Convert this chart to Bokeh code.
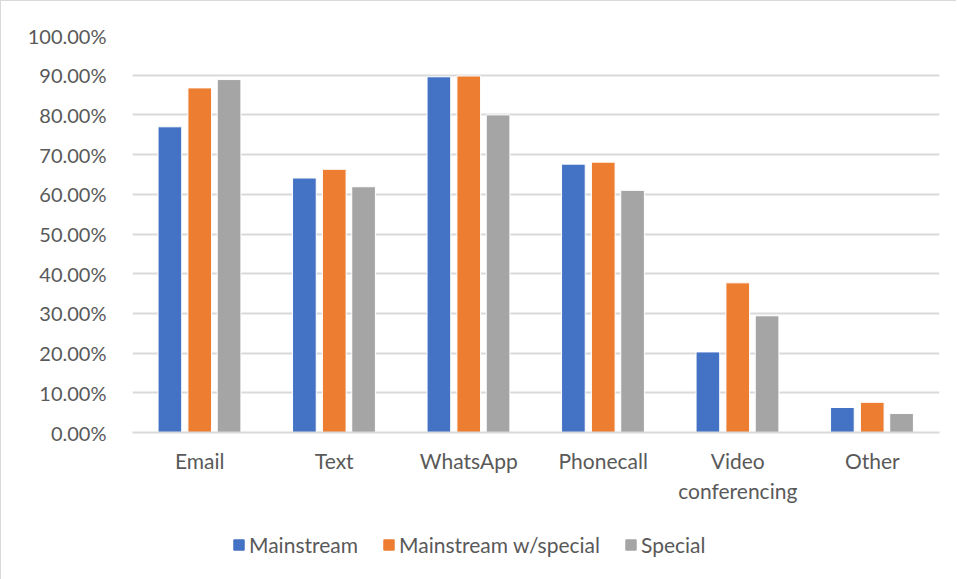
from bokeh.plotting import figure
from bokeh.layouts import column
from bokeh.models import ColumnDataSource, FixedTicker, Range1d, Legend, LegendItem, NumeralTickFormatter
from bokeh.transform import dodge
from bokeh.embed import file_html
from bokeh.resources import INLINE

categories = ["Email", "Text", "WhatsApp", "Phonecall", "Video\nconferencing", "Other"]
mainstream = [0.770, 0.641, 0.896, 0.676, 0.203, 0.063]
mainstream_special = [0.868, 0.663, 0.898, 0.681, 0.377, 0.076]
special = [0.889, 0.619, 0.800, 0.610, 0.294, 0.048]
series_names = ["Mainstream", "Mainstream w/special", "Special"]
colors = ["#4472C4", "#ED7D31", "#A5A5A5"]
y_ticks = [0, 0.1, 0.2, 0.3, 0.4, 0.5, 0.6, 0.7, 0.8, 0.9, 1.0]

FONT = "Lato"
TXT = "#595959"
BORDER = "1px solid #d9d9d9"

src = ColumnDataSource(dict(
    x=list(range(len(categories))),
    m=mainstream, ms=mainstream_special, s=special,
))

p = figure(width=956, height=509, output_backend="svg", toolbar_location=None,
           x_range=Range1d(-0.5, len(categories) - 0.5), y_range=Range1d(0, 1.0),
           min_border_left=131, min_border_right=18, min_border_top=34, min_border_bottom=78)
p.styles = {"border-top": BORDER, "border-left": BORDER}
p.outline_line_color = None
p.background_fill_color = "white"
p.border_fill_color = "white"

offsets = [-0.222, 0.0, 0.218]
fields = ["m", "ms", "s"]
for f, off, c in zip(fields, offsets, colors):
    p.vbar(x=dodge("x", off, range=p.x_range), top=f, width=0.176, source=src,
           fill_color=c, line_color="white", line_width=1)

p.xaxis.ticker = FixedTicker(ticks=list(range(len(categories))))
p.xaxis.major_label_overrides = {i: c for i, c in enumerate(categories)}
p.xaxis.axis_line_color = "#d9d9d9"
p.xaxis.axis_line_width = 2
p.xaxis.major_tick_line_color = None
p.xaxis.minor_tick_line_color = None
p.xaxis.major_label_text_font = FONT
p.xaxis.major_label_text_font_size = "21px"
p.xaxis.major_label_text_color = TXT
p.xaxis.major_label_standoff = 9

p.yaxis.ticker = FixedTicker(ticks=y_ticks)
p.yaxis.formatter = NumeralTickFormatter(format="0.00%")
p.yaxis.axis_line_color = None
p.yaxis.major_tick_line_color = None
p.yaxis.minor_tick_line_color = None
p.yaxis.major_label_text_font = FONT
p.yaxis.major_label_text_font_size = "20px"
p.yaxis.major_label_text_color = TXT
p.yaxis.major_label_standoff = 20

p.xgrid.grid_line_color = None
p.ygrid.ticker = FixedTicker(ticks=y_ticks)
p.ygrid.grid_line_color = "#d9d9d9"
p.ygrid.grid_line_width = 2

# legend strip below the chart (non-drawn NaN renderers only provide the swatches)
pl = figure(width=956, height=70, output_backend="svg", toolbar_location=None,
            x_range=Range1d(0, 1), y_range=Range1d(0, 1), x_axis_type=None, y_axis_type=None,
            min_border=0)
pl.styles = {"border-left": BORDER}
pl.outline_line_color = None
pl.grid.grid_line_color = None
blank = ColumnDataSource(dict(x=[float("nan")], top=[float("nan")]))
swatches = [pl.vbar(x="x", top="top", width=0.1, source=blank, fill_color=c, line_color=c)
            for c in colors]
legend = Legend(items=[LegendItem(label=n, renderers=[r]) for n, r in zip(series_names, swatches)],
                orientation="horizontal", location=(100, 22),
                glyph_width=13, glyph_height=13, label_standoff=4, spacing=24,
                padding=0, margin=0, border_line_color=None, background_fill_alpha=0,
                label_text_font=FONT, label_text_font_size="21px", label_text_color=TXT)
pl.add_layout(legend, "center")

layout = column(p, pl, spacing=0)
open("out.html", "w").write(file_html(layout, INLINE))
